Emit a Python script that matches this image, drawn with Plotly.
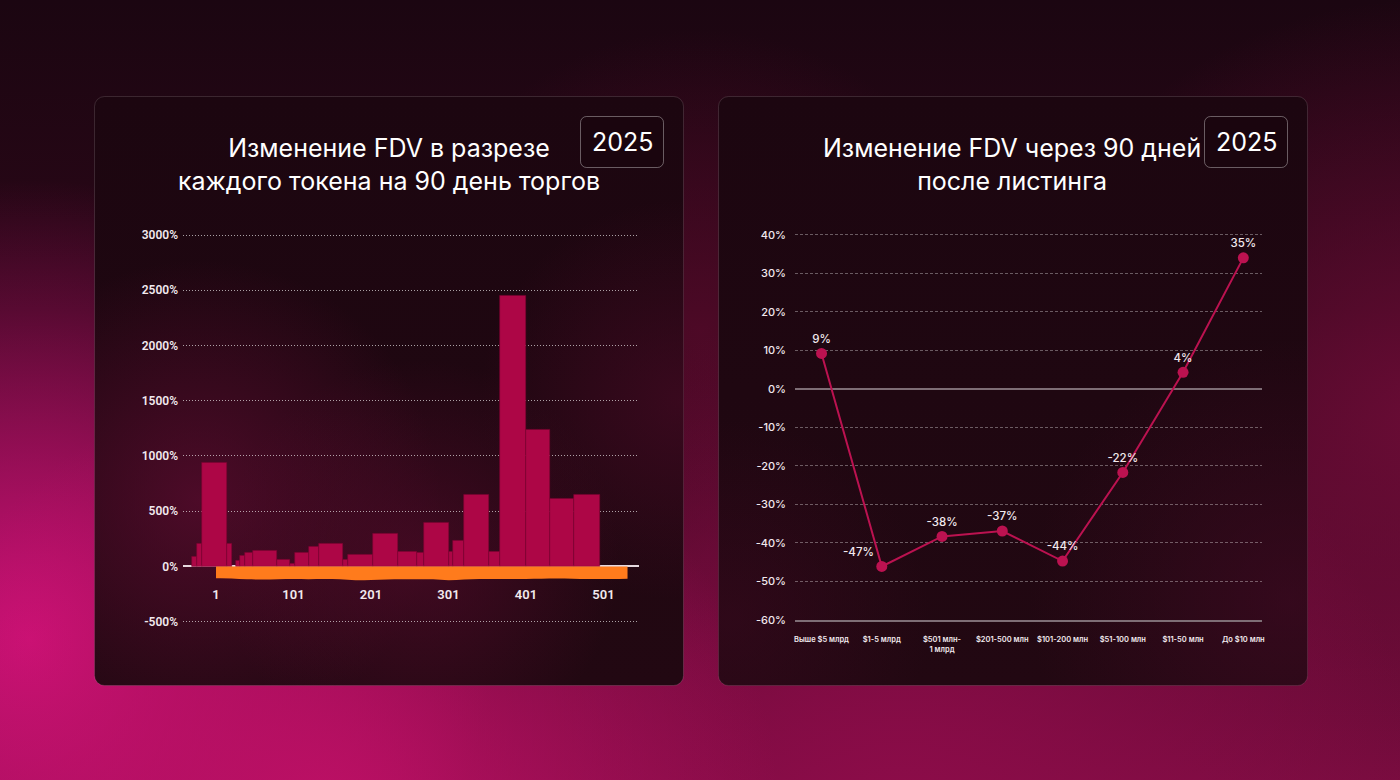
import base64
import plotly.graph_objects as go

# ---------------- DATA ----------------
pos_start = [-29.5, -24, -17.5, 14.8, 26.8, 32, 38.4, 49.2, 79.3, 96.5, 102.9, 121, 134, 165.3,
             171.8, 204, 235.4, 260, 269.4, 301.6, 306.4, 321, 352.8, 367.5, 400.6, 432, 463.4]
pos_end = [-24, -17.5, 14.8, 22, 32, 38.4, 49.2, 79.3, 96.5, 102.9, 121, 134, 165.3, 171.8,
           204, 235.4, 260, 269.4, 301.6, 306.4, 321, 352.8, 367.5, 400.6, 432, 463.4, 496.5]
pos_value = [85, 205, 940, 205, 55, 95, 125, 145, 60, 25, 120, 180, 210, 60,
             110, 300, 135, 128, 400, 137, 235, 650, 135, 2450, 1235, 612, 650]

neg_token = [1, 21, 41, 61, 81, 101, 121, 141, 161, 181, 201, 221, 241, 261, 281, 301,
             321, 341, 361, 381, 401, 421, 441, 461, 481, 501, 521, 532]
neg_value = [-107, -108, -116, -118, -116, -114, -115, -113, -116, -125, -122, -118, -116, -115,
             -117, -125, -119, -114, -113, -114, -113, -112, -110, -112, -114, -113, -113, -112]

left_xticks = [1, 101, 201, 301, 401, 501]
left_yticks = [-500, 0, 500, 1000, 1500, 2000, 2500, 3000]

buckets = ["Выше $5 млрд", "$1-5 млрд", "$501 млн-<br>1 млрд", "$201-500 млн",
           "$101-200 млн", "$51-100 млн", "$11-50 млн", "До $10 млн"]
bucket_value = [9.2, -46.1, -38.3, -36.9, -44.7, -21.7, 4.3, 34.0]
bucket_label = ["9%", "-47%", "-38%", "-37%", "-44%", "-22%", "4%", "35%"]
right_yticks = [-60, -50, -40, -30, -20, -10, 0, 10, 20, 30, 40]

title_left = "Изменение FDV в разрезе<br>каждого токена на 90 день торгов"
title_right = "Изменение FDV через 90 дней<br>после листинга"
year_label = "2025"

# ---------------- STYLE ----------------
W, H = 1400, 780
BAR = "#ad0646"
ORANGE = "#ff7b1c"
LINE = "#bb1250"
TXT = "#f2e9ee"
label_pos = ["top center", "top left", "top center", "top center", "top center",
             "top center", "top center", "top center"]

svg = f'''<svg xmlns="http://www.w3.org/2000/svg" width="{W}" height="{H}" viewBox="0 0 {W} {H}">
<defs>
<linearGradient id="bg" x1="0" y1="0" x2="0" y2="1">
<stop offset="0" stop-color="#1b0611"/>
<stop offset="0.4" stop-color="#2c0718"/>
<stop offset="1" stop-color="#7a0c40"/>
</linearGradient>
<radialGradient id="g1" cx="30" cy="640" r="460" gradientUnits="userSpaceOnUse">
<stop offset="0" stop-color="#d2127a" stop-opacity="0.95"/>
<stop offset="1" stop-color="#d2127a" stop-opacity="0"/>
</radialGradient>
<radialGradient id="g2" cx="330" cy="820" r="450" gradientUnits="userSpaceOnUse">
<stop offset="0" stop-color="#c21068" stop-opacity="0.9"/>
<stop offset="1" stop-color="#c21068" stop-opacity="0"/>
</radialGradient>
<radialGradient id="g3" cx="1420" cy="420" r="420" gradientUnits="userSpaceOnUse">
<stop offset="0" stop-color="#700c38" stop-opacity="0.85"/>
<stop offset="1" stop-color="#700c38" stop-opacity="0"/>
</radialGradient>
<radialGradient id="g4" cx="700" cy="330" r="300" gradientUnits="userSpaceOnUse">
<stop offset="0" stop-color="#5a0a2c" stop-opacity="0.7"/>
<stop offset="1" stop-color="#5a0a2c" stop-opacity="0"/>
</radialGradient>
<radialGradient id="g5" cx="900" cy="820" r="520" gradientUnits="userSpaceOnUse">
<stop offset="0" stop-color="#8e0c4a" stop-opacity="0.9"/>
<stop offset="1" stop-color="#8e0c4a" stop-opacity="0"/>
</radialGradient>
<linearGradient id="panel" x1="0" y1="0" x2="0" y2="1">
<stop offset="0" stop-color="#1c0610"/>
<stop offset="1" stop-color="#220812"/>
</linearGradient>
<radialGradient id="p1" cx="200" cy="500" r="240" gradientUnits="userSpaceOnUse">
<stop offset="0" stop-color="#5c0c30" stop-opacity="0.75"/>
<stop offset="1" stop-color="#5c0c30" stop-opacity="0"/>
</radialGradient>
<radialGradient id="p2" cx="420" cy="560" r="200" gradientUnits="userSpaceOnUse">
<stop offset="0" stop-color="#560b2c" stop-opacity="0.6"/>
<stop offset="1" stop-color="#560b2c" stop-opacity="0"/>
</radialGradient>
<radialGradient id="p3" cx="680" cy="400" r="200" gradientUnits="userSpaceOnUse">
<stop offset="0" stop-color="#4a0a26" stop-opacity="0.6"/>
<stop offset="1" stop-color="#4a0a26" stop-opacity="0"/>
</radialGradient>
<radialGradient id="p4" cx="1290" cy="600" r="260" gradientUnits="userSpaceOnUse">
<stop offset="0" stop-color="#420a24" stop-opacity="0.6"/>
<stop offset="1" stop-color="#420a24" stop-opacity="0"/>
</radialGradient>
<radialGradient id="p5" cx="730" cy="620" r="200" gradientUnits="userSpaceOnUse">
<stop offset="0" stop-color="#3c0920" stop-opacity="0.5"/>
<stop offset="1" stop-color="#3c0920" stop-opacity="0"/>
</radialGradient>
</defs>
<rect x="0" y="0" width="{W}" height="{H}" fill="url(#bg)"/>
<rect x="0" y="0" width="{W}" height="{H}" fill="url(#g4)"/>
<rect x="0" y="0" width="{W}" height="{H}" fill="url(#g3)"/>
<rect x="0" y="0" width="{W}" height="{H}" fill="url(#g5)"/>
<rect x="0" y="0" width="{W}" height="{H}" fill="url(#g1)"/>
<rect x="0" y="0" width="{W}" height="{H}" fill="url(#g2)"/>
<rect x="94.5" y="96.5" width="589" height="589" rx="10" fill="url(#panel)" stroke="#ffffff" stroke-opacity="0.13"/>
<rect x="94.5" y="96.5" width="589" height="589" rx="10" fill="url(#p1)"/>
<rect x="94.5" y="96.5" width="589" height="589" rx="10" fill="url(#p2)"/>
<rect x="94.5" y="96.5" width="589" height="589" rx="10" fill="url(#p3)"/>
<rect x="718.5" y="96.5" width="589" height="589" rx="10" fill="url(#panel)" stroke="#ffffff" stroke-opacity="0.13"/>
<rect x="718.5" y="96.5" width="589" height="589" rx="10" fill="url(#p4)"/>
<rect x="718.5" y="96.5" width="589" height="589" rx="10" fill="url(#p5)"/>
<rect x="580.5" y="116.5" width="83" height="51" rx="6" fill="#1a050e" stroke="#ffffff" stroke-opacity="0.35"/>
<rect x="1204.5" y="116.5" width="83" height="51" rx="6" fill="#1a050e" stroke="#ffffff" stroke-opacity="0.35"/>
</svg>'''
bg_uri = "data:image/svg+xml;base64," + base64.b64encode(svg.encode("utf-8")).decode("ascii")


def px(x):
    return x / W


def py(y):
    return 1 - y / H


fig = go.Figure()

centers = [(a + b) / 2 for a, b in zip(pos_start, pos_end)]
widths = [b - a for a, b in zip(pos_start, pos_end)]
fig.add_trace(go.Bar(x=centers, y=pos_value, width=widths,
                     marker=dict(color=BAR, line=dict(color="#7a0330", width=0.6)),
                     xaxis="x", yaxis="y", hoverinfo="skip", showlegend=False))
fig.add_trace(go.Scatter(x=neg_token, y=neg_value, mode="lines", line=dict(width=0, color=ORANGE, shape="spline"),
                         fill="tozeroy", fillcolor=ORANGE, xaxis="x", yaxis="y", hoverinfo="skip",
                         showlegend=False))

fig.add_trace(go.Scatter(x=buckets, y=bucket_value, mode="lines+markers+text", text=bucket_label,
                         textposition=label_pos,
                         textfont=dict(family="Inter", size=11.5, color=TXT, weight=500),
                         line=dict(color=LINE, width=2), marker=dict(color=LINE, size=11),
                         xaxis="x2", yaxis="y2", hoverinfo="skip", showlegend=False, cliponaxis=False))

tick_font_l = dict(family="Roboto", size=12, color=TXT, weight=600)

fig.update_layout(
    width=W, height=H, margin=dict(l=0, r=0, t=0, b=0, pad=0, autoexpand=False), autosize=False,
    paper_bgcolor="#1b0611", plot_bgcolor="rgba(0,0,0,0)",
    bargap=0,
    images=[dict(source=bg_uri, xref="paper", yref="paper", x=0, y=1, sizex=1, sizey=1,
                 xanchor="left", yanchor="top", sizing="stretch", layer="below")],
    xaxis=dict(domain=[px(183), px(639)], range=[-41.6, 546.8], anchor="free", position=py(585),
               showgrid=False, zeroline=False, showline=False, tickmode="array", tickvals=left_xticks,
               ticktext=[str(v) for v in left_xticks], ticks="",
               tickfont=dict(family="Roboto", size=13, color=TXT, weight=600)),
    yaxis=dict(domain=[py(625.0), py(231.7)], range=[-530, 3030], tickmode="array", tickvals=left_yticks,
               ticktext=[f"{v}%" for v in left_yticks],
               showgrid=True, gridcolor="rgba(255,255,255,0.62)", griddash="1px,2px", gridwidth=1,
               zeroline=True, zerolinecolor="#e6d8de", zerolinewidth=1.5, anchor="x",
               showline=False, ticks="", tickfont=tick_font_l, ticklabelstandoff=4),
    xaxis2=dict(domain=[px(795), px(1262)], range=[-0.44, 7.31], type="category", anchor="y2",
                showgrid=False, zeroline=False, showline=True, linecolor="#7e6e76", linewidth=1.5,
                ticks="", tickangle=0, tickfont=dict(family="Inter", size=7.5, color=TXT, weight=600),
                ticklabelstandoff=11),
    yaxis2=dict(domain=[py(620), py(230.9)], range=[-60, 41], tickmode="array", tickvals=right_yticks,
                ticktext=[f"{v}%" for v in right_yticks], anchor="x2",
                showgrid=True, gridcolor="rgba(255,255,255,0.34)", griddash="3px,2px", gridwidth=1,
                zeroline=True, zerolinecolor="#7e6e76", zerolinewidth=1.5, showline=False, ticks="",
                tickfont=dict(family="Inter", size=11, color=TXT, weight=500), ticklabelstandoff=8),
    annotations=[
        dict(text=title_left, x=px(388.5), y=py(164.5), xref="paper", yref="paper", showarrow=False,
             xanchor="center", yanchor="middle", font=dict(family="Inter", size=25, color="#ffffff")),
        dict(text=title_right, x=px(1012), y=py(164.5), xref="paper", yref="paper", showarrow=False,
             xanchor="center", yanchor="middle", font=dict(family="Inter", size=25, color="#ffffff")),
        dict(text=year_label, x=px(622), y=py(142), xref="paper", yref="paper", showarrow=False,
             xanchor="center", yanchor="middle", font=dict(family="Inter", size=25, color="#ffffff")),
        dict(text=year_label, x=px(1246), y=py(142), xref="paper", yref="paper", showarrow=False,
             xanchor="center", yanchor="middle", font=dict(family="Inter", size=25, color="#ffffff")),
    ],
)

fig.write_html("out.html", config={"displayModeBar": False, "responsive": False})
